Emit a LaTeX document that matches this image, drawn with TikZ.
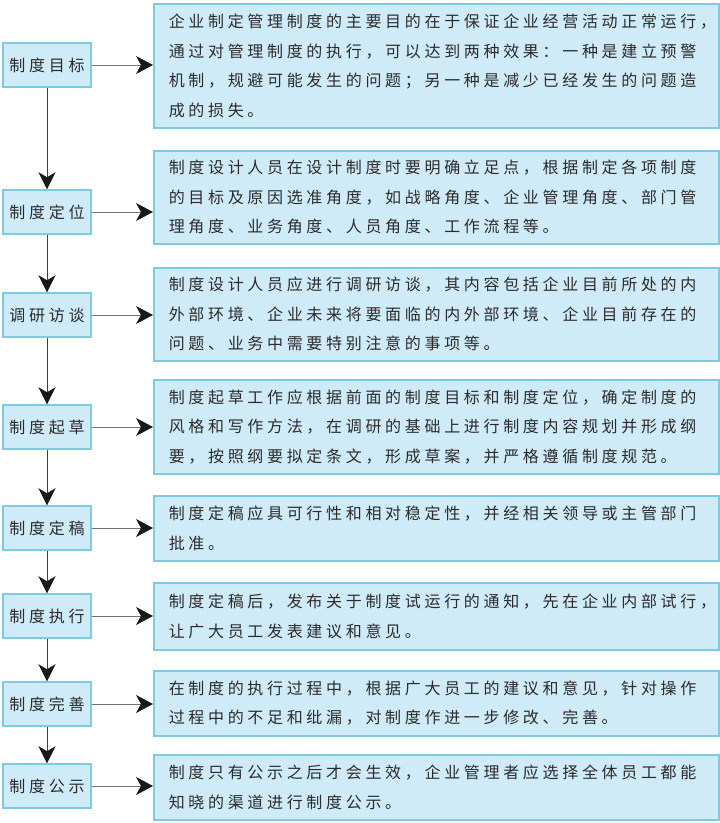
\documentclass[tikz,border=0pt]{standalone}
\usepackage{fontspec}
\newfontfamily\cjk[LetterSpace=23]{Noto Sans CJK SC}
\usepackage{xcolor}
\definecolor{colorFill}{HTML}{CFEBF7}
\definecolor{colorBorder}{HTML}{7DCBE2}
\definecolor{colorText}{HTML}{2B2B2B}
\colorlet{colorLine}{black!55}
\colorlet{colorDown}{black!75}
\usetikzlibrary{arrows.meta, positioning}
\tikzset{
  stagebox/.style={draw=colorBorder, fill=colorFill, line width=1.5pt, minimum width=88pt, minimum height=44pt, inner sep=0pt, text=colorText, font=\cjk\fontsize{16pt}{29pt}\selectfont},
  descbox/.style={draw=colorBorder, fill=colorFill, line width=1.5pt, anchor=north west, minimum width=565pt, inner xsep=15pt, inner ysep=0pt, text width=535pt, align=left, text=colorText, font=\cjk\fontsize{16pt}{29.5pt}\selectfont},
  rightarrow/.style={draw=colorLine, line width=0.9pt, -{Stealth[length=17pt, width=18pt, inset=5pt, color=black!90]}},
  downarrow/.style={draw=colorDown, line width=0.9pt, -{Stealth[length=17pt, width=17pt, inset=5pt, color=black!90]}}
}

\begin{document}
\begin{tikzpicture}[x=1pt, y=1pt]
\useasboundingbox (0,0) rectangle (720,-823);
\node[stagebox] (s1) at (47,-65) {制度目标};
\node[stagebox] (s2) at (47,-212) {制度定位};
\node[stagebox] (s3) at (47,-315) {调研访谈};
\node[stagebox] (s4) at (47,-427) {制度起草};
\node[stagebox] (s5) at (47,-528) {制度定稿};
\node[stagebox] (s6) at (47,-616) {制度执行};
\node[stagebox] (s7) at (47,-704) {制度完善};
\node[stagebox] (s8) at (47,-786) {制度公示};
\node[descbox, minimum height=124pt] (d1) at (153,-3) {企业制定管理制度的主要目的在于保证企业经营活动正常运行，\\通过对管理制度的执行，可以达到两种效果：一种是建立预警\\机制，规避可能发生的问题；另一种是减少已经发生的问题造\\成的损失。};
\node[descbox, minimum height=93pt] (d2) at (153,-150) {制度设计人员在设计制度时要明确立足点，根据制定各项制度\\的目标及原因选准角度，如战略角度、企业管理角度、部门管\\理角度、业务角度、人员角度、工作流程等。};
\node[descbox, minimum height=93pt] (d3) at (153,-267) {制度设计人员应进行调研访谈，其内容包括企业目前所处的内\\外部环境、企业未来将要面临的内外部环境、企业目前存在的\\问题、业务中需要特别注意的事项等。};
\node[descbox, minimum height=94pt] (d4) at (153,-379) {制度起草工作应根据前面的制度目标和制度定位，确定制度的\\风格和写作方法，在调研的基础上进行制度内容规划并形成纲\\要，按照纲要拟定条文，形成草案，并严格遵循制度规范。};
\node[descbox, minimum height=65pt] (d5) at (153,-495) {制度定稿应具可行性和相对稳定性，并经相关领导或主管部门\\批准。};
\node[descbox, minimum height=67pt] (d6) at (153,-582) {制度定稿后，发布关于制度试运行的通知，先在企业内部试行，\\让广大员工发表建议和意见。};
\node[descbox, minimum height=65pt] (d7) at (153,-670) {在制度的执行过程中，根据广大员工的建议和意见，针对操作\\过程中的不足和纰漏，对制度作进一步修改、完善。};
\node[descbox, minimum height=65pt] (d8) at (153,-754) {制度只有公示之后才会生效，企业管理者应选择全体员工都能\\知晓的渠道进行制度公示。};
\draw[rightarrow] (s1) -- (s1 -| d1.west);
\draw[rightarrow] (s2) -- (s2 -| d2.west);
\draw[rightarrow] (s3) -- (s3 -| d3.west);
\draw[rightarrow] (s4) -- (s4 -| d4.west);
\draw[rightarrow] (s5) -- (s5 -| d5.west);
\draw[rightarrow] (s6) -- (s6 -| d6.west);
\draw[rightarrow] (s7) -- (s7 -| d7.west);
\draw[rightarrow] (s8) -- (s8 -| d8.west);
\draw[downarrow] (s1) -- (s2);
\draw[downarrow] (s2) -- (s3);
\draw[downarrow] (s3) -- (s4);
\draw[downarrow] (s4) -- (s5);
\draw[downarrow] (s5) -- (s6);
\draw[downarrow] (s6) -- (s7);
\draw[downarrow] (s7) -- (s8);
\end{tikzpicture}
\end{document}
